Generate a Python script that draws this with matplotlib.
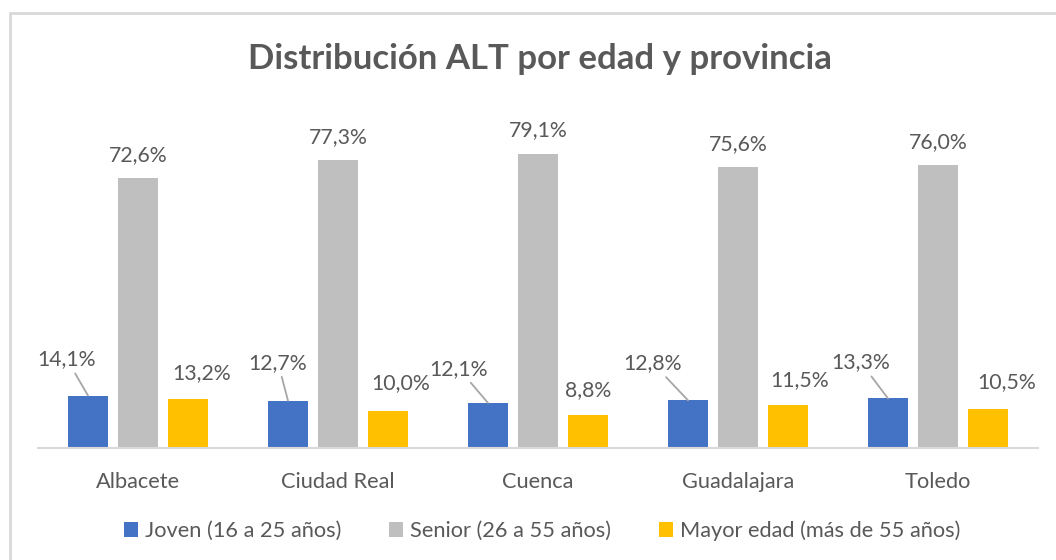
import matplotlib
matplotlib.use("Agg")
import matplotlib.pyplot as plt
from matplotlib.patches import Rectangle, Patch
import numpy as np

plt.rcParams['font.family'] = ['Lato', 'DejaVu Sans']

categories = ["Albacete", "Ciudad Real", "Cuenca", "Guadalajara", "Toledo"]
series_names = ["Joven (16 a 25 años)", "Senior (26 a 55 años)", "Mayor edad (más de 55 años)"]
joven = [14.1, 12.7, 12.1, 12.8, 13.3]
senior = [72.6, 77.3, 79.1, 75.6, 76.0]
mayor = [13.2, 10.0, 8.8, 11.5, 10.5]
title = "Distribución ALT por edad y provincia"

colors = ["#4472C4", "#BFBFBF", "#FFC000"]
text_color = "#595959"

fig = plt.figure(figsize=(10.56, 5.6), dpi=100)
ax = fig.add_axes([38/1056, 112/560, 1000/1056, 335/560])

x = np.arange(len(categories))
w = 0.2
step = 0.25
series = [joven, senior, mayor]
for i, (vals, c) in enumerate(zip(series, colors)):
    ax.bar(x + (i - 1) * step, vals, width=w, color=c, zorder=2)

ax.set_xlim(-0.5, len(categories) - 0.5)
ax.set_ylim(0, 90)
for s in ["top", "right", "left"]:
    ax.spines[s].set_visible(False)
ax.spines["bottom"].set_color("#D9D9D9")
ax.spines["bottom"].set_linewidth(1.5)
ax.set_yticks([])
ax.set_xticks(x)
ax.set_xticklabels(categories, fontsize=15.7, color=text_color)
ax.tick_params(axis="x", length=0, pad=17)

def fmt(v):
    return f"{v:.1f}%".replace(".", ",")

# label offsets in pixels (text centre relative to bar top centre)
joven_off = [(-21, 36), (-10, 38), (-29, 34), (-35, 37), (-27, 36)]
mayor_off = [(14, 26), (13, 28), (0, 25), (12, 25), (19, 27)]
senior_off = [(0, 23)] * 5

label_fs = 15.3
for j, v in enumerate(joven):
    ax.annotate(fmt(v), xy=(x[j] - step, v), xytext=joven_off[j], textcoords="offset pixels",
                ha="center", va="center", fontsize=label_fs, color=text_color,
                arrowprops=dict(arrowstyle="-", color="#A6A6A6", lw=1.3, shrinkA=1, shrinkB=0))
for j, v in enumerate(senior):
    ax.annotate(fmt(v), xy=(x[j], v), xytext=senior_off[j], textcoords="offset pixels",
                ha="center", va="center", fontsize=label_fs, color=text_color)
for j, v in enumerate(mayor):
    ax.annotate(fmt(v), xy=(x[j] + step, v), xytext=mayor_off[j], textcoords="offset pixels",
                ha="center", va="center", fontsize=label_fs, color=text_color)

fig.text(540/1056, 1 - 59/560, title, ha="center", va="center", fontsize=25,
         fontweight="bold", color=text_color)

handles = [Patch(facecolor=c, edgecolor="none") for c in colors]
fig.legend(handles, series_names, loc="center", bbox_to_anchor=(542/1056, 29/560), ncol=3,
           frameon=False, fontsize=15.7, labelcolor=text_color, handlelength=0.65,
           handleheight=0.65, handletextpad=0.3, columnspacing=2.2)

# chart border
fig.patches.append(Rectangle((10/1056, -0.1), 1.2, 1.1 - 13/560, transform=fig.transFigure,
                             fill=False, edgecolor="#D9D9D9", linewidth=2, zorder=0))

fig.savefig("out.png", dpi=100)
